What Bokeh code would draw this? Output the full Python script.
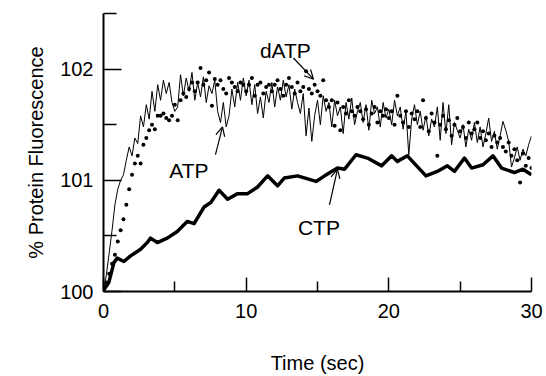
from bokeh.plotting import figure
from bokeh.models import Range1d, FixedTicker, Label, Arrow, OpenHead
from bokeh.embed import file_html
from bokeh.resources import INLINE

# ---- data ----
atp_t = [round(i * 0.2, 1) for i in range(151)]
atp_v = [
    100.00, 100.15, 100.35, 100.55, 100.78, 100.92, 101.00, 101.05, 101.18, 101.30,
    101.22, 101.38, 101.33, 101.58, 101.48, 101.68, 101.55, 101.80, 101.62, 101.86,
    101.72, 101.90, 101.78, 101.88, 101.70, 101.62, 101.66, 101.95, 101.76, 101.92,
    101.80, 101.97, 101.72, 101.88, 101.75, 101.93, 101.70, 101.85, 101.78, 101.90,
    101.62, 101.52, 101.70, 101.48, 101.58, 101.82, 101.66, 101.88, 101.72, 101.92,
    101.76, 101.90, 101.68, 101.86, 101.60, 101.75, 101.56, 101.80, 101.70, 101.88,
    101.66, 101.84, 101.72, 101.90, 101.75, 101.86, 101.64, 101.82, 101.70, 101.60,
    101.78, 101.40, 101.65, 101.35, 101.58, 101.72, 101.50, 101.76, 101.62, 101.70,
    101.48, 101.72, 101.58, 101.66, 101.42, 101.70, 101.55, 101.74, 101.50, 101.62,
    101.70, 101.52, 101.68, 101.45, 101.72, 101.60, 101.66, 101.48, 101.70, 101.56,
    101.64, 101.50, 101.72, 101.58, 101.66, 101.46, 101.62, 101.23, 101.55, 101.68,
    101.50, 101.62, 101.45, 101.58, 101.40, 101.55, 101.48, 101.66, 101.36, 101.70,
    101.42, 101.68, 101.32, 101.52, 101.45, 101.38, 101.50, 101.30, 101.46, 101.36,
    101.52, 101.34, 101.48, 101.30, 101.42, 101.56, 101.35, 101.44, 101.28, 101.40,
    101.53, 101.45, 101.35, 101.12, 101.20, 101.30, 101.18, 101.28, 101.22, 101.32,
    101.40,
]

datp_t = [round(i * 0.2, 1) for i in range(151)]
datp_v = [
    100.00, 100.08, 100.16, 100.25, 100.33, 100.45, 100.55, 100.65, 100.78, 100.92,
    101.05, 101.15, 101.22, 101.15, 101.32, 101.38, 101.45, 101.50, 101.46, 101.58,
    101.58, 101.60, 101.56, 101.54, 101.58, 101.68, 101.54, 101.72, 101.78, 101.75,
    101.82, 101.88, 101.80, 101.88, 102.01, 101.86, 101.90, 101.97, 101.67, 101.91,
    101.86, 101.90, 101.82, 101.78, 101.92, 101.88, 101.84, 101.80, 101.88, 101.86,
    101.80, 101.86, 101.92, 101.76, 101.86, 101.88, 101.78, 101.84, 101.86, 101.80,
    101.86, 101.90, 101.82, 101.76, 101.86, 101.92, 101.84, 101.78, 101.88, 101.80,
    101.84, 101.98, 101.82, 101.78, 101.86, 101.80, 101.76, 101.90, 101.72, 101.66,
    101.72, 101.49, 101.70, 101.45, 101.66, 101.60, 101.72, 101.62, 101.58, 101.66,
    101.62, 101.55, 101.64, 101.50, 101.60, 101.66, 101.52, 101.62, 101.58, 101.64,
    101.56, 101.62, 101.50, 101.76, 101.58, 101.52, 101.62, 101.48, 101.60, 101.55,
    101.62, 101.48, 101.72, 101.56, 101.44, 101.60, 101.52, 101.22, 101.50, 101.58,
    101.46, 101.54, 101.40, 101.50, 101.56, 101.44, 101.48, 101.38, 101.52, 101.42,
    101.46, 101.52, 101.38, 101.44, 101.36, 101.42, 101.30, 101.40, 101.34, 101.38,
    101.30, 101.26, 101.34, 101.22, 101.28, 101.18, 100.98, 101.24, 101.13, 101.20,
    101.11,
]

ctp_t = [0, 0.37, 0.73, 0.96, 1.43, 1.9, 2.6, 3.07, 3.3, 3.77, 4.47, 5.17, 5.87,
         6.35, 7.05, 7.52, 8.1, 8.7, 9.4, 10.1, 10.8, 11.5, 12.2, 12.67, 13.6,
         14.9, 15.5, 16.4, 16.9, 17.7, 18.5, 19.5, 20.2, 20.6, 21.3, 22.6, 23.4,
         24.1, 24.6, 25.3, 25.8, 26.6, 27.3, 27.9, 28.8, 29.4, 30]
ctp_v = [100.01, 100.08, 100.26, 100.30, 100.27, 100.32, 100.38, 100.44, 100.48,
         100.44, 100.48, 100.54, 100.63, 100.61, 100.76, 100.80, 100.91, 100.83,
         100.88, 100.88, 100.94, 101.04, 100.95, 101.02, 101.04, 100.99, 101.04,
         101.11, 101.10, 101.23, 101.20, 101.13, 101.22, 101.17, 101.22, 101.04,
         101.08, 101.13, 101.08, 101.20, 101.11, 101.14, 101.22, 101.11, 101.07,
         101.10, 101.05]

x_major = [0, 10, 20, 30]
x_minor = [5, 15, 25]
y_major = [100, 101, 102]
y_minor = [100.5, 101.5, 102.5]

FONT = "Liberation Sans"

p = figure(width=546, height=376, x_range=Range1d(0, 30), y_range=Range1d(100, 102.5),
           output_backend="svg", toolbar_location=None,
           min_border_left=103, min_border_right=15, min_border_top=13, min_border_bottom=80)
p.outline_line_color = None
p.grid.visible = False
p.background_fill_color = "white"

p.xaxis.ticker = FixedTicker(ticks=x_major, minor_ticks=x_minor)
p.yaxis.ticker = FixedTicker(ticks=y_major, minor_ticks=y_minor)

for ax in (p.xaxis[0], p.yaxis[0]):
    ax.axis_line_width = 2
    ax.axis_line_color = "black"
    ax.major_tick_out = 0
    ax.minor_tick_out = 0
    ax.major_tick_line_width = 1.5
    ax.minor_tick_line_width = 1.5
    ax.major_tick_line_color = "black"
    ax.minor_tick_line_color = "black"
    ax.major_label_text_font = FONT
    ax.major_label_text_font_size = "20px"
    ax.major_label_text_color = "black"
    ax.axis_label_text_font = FONT
    ax.axis_label_text_font_size = "20px"
    ax.axis_label_text_font_style = "normal"
    ax.axis_label_text_color = "black"

p.xaxis.major_tick_in = 14
p.xaxis.minor_tick_in = 10
p.yaxis.major_tick_in = 18
p.yaxis.minor_tick_in = 13
p.xaxis.major_label_standoff = 12
p.yaxis.major_label_standoff = 10
p.xaxis.axis_label = "Time (sec)"
p.yaxis.axis_label = "% Protein Fluorescence"
p.xaxis.axis_label_standoff = 31
p.yaxis.axis_label_standoff = 10

p.line(atp_t, atp_v, line_color="black", line_width=1)
p.scatter(datp_t, datp_v, size=4, fill_color="black", line_color=None)
p.line(ctp_t, ctp_v, line_color="black", line_width=3.5, line_join="round")

for txt, x, y in [("dATP", 12.75, 102.17), ("ATP", 5.99, 101.09), ("CTP", 15.1, 100.58)]:
    p.add_layout(Label(x=x, y=y, text=txt, text_font=FONT, text_font_size="21px",
                       text_align="center", text_baseline="alphabetic", text_color="black"))

for (x0, y0, x1, y1) in [(13.31, 102.10, 14.72, 101.91), (7.85, 101.23, 8.34, 101.48),
                         (15.84, 100.78, 16.4, 101.10)]:
    p.add_layout(Arrow(end=OpenHead(size=9, line_width=1.2, line_color="black"),
                       x_start=x0, y_start=y0, x_end=x1, y_end=y1,
                       line_width=1.2, line_color="black"))

open("out.html", "w").write(file_html(p, INLINE))
